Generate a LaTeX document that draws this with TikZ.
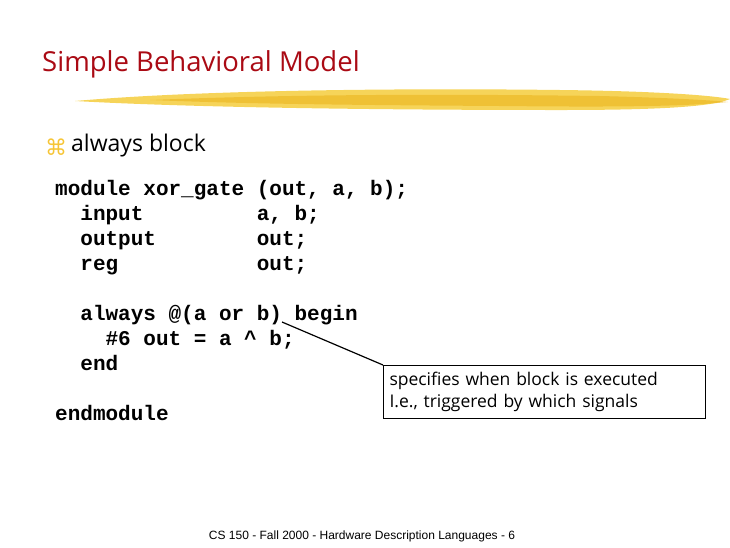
\documentclass[tikz,border=0pt]{standalone}
\usepackage{fontspec}
\setmainfont{Open Sans}
\setmonofont{Liberation Mono}
\newfontfamily\djv{DejaVu Sans}
\newfontfamily\foot{Liberation Sans}
\definecolor{titlered}{RGB}{170,10,20}
\definecolor{brushA}{RGB}{245,205,60}
\definecolor{brushB}{RGB}{235,180,30}
\begin{document}
\begin{tikzpicture}[x=1pt,y=-1pt,
  code/.style={anchor=base west,inner sep=0pt,font=\ttfamily\bfseries\fontsize{21}{21}\selectfont},
  note/.style={draw,line width=1pt,inner xsep=6pt,inner ysep=4pt,align=left,font=\fontsize{17.5}{22}\selectfont}]
\useasboundingbox (0,0) rectangle (730,547);
\node[anchor=west,inner sep=0pt,text=titlered,font=\fontsize{27.5}{27.5}\selectfont] (title) at (42,64) {Simple Behavioral Model};
% brush stroke
\fill[brushA,opacity=0.85] (75,101) .. controls (200,90) and (400,88) .. (560,90) .. controls (650,91) and (710,95) .. (730,99) .. controls (710,108) and (640,110) .. (560,110) .. controls (400,110) and (200,108) .. (75,101) -- cycle;
\fill[brushB,opacity=0.6] (150,100) .. controls (300,94) and (450,94) .. (600,96) .. controls (680,98) and (720,101) .. (728,102) .. controls (680,107) and (600,107) .. (500,106) .. controls (350,105) and (250,104) .. (150,100) -- cycle;
\node[anchor=west,inner sep=0pt,text=brushA!90!orange,font=\djv\fontsize{22}{22}\selectfont] (bul) at (45,147) {⌘};
\node[anchor=west,inner sep=0pt,font=\fontsize{23}{23}\selectfont] (alw) at (71,146) {always block};
\node[code] (l1) at (55,195) {module~xor\_gate~(out,~a,~b);};
\node[code] (l2) at (55,220) {~~input~~~~~~~~~a,~b;};
\node[code] (l3) at (55,245) {~~output~~~~~~~~out;};
\node[code] (l4) at (55,270) {~~reg~~~~~~~~~~~out;};
\node[code] (l5) at (55,320) {~~always~@(a~or~b)~begin};
\node[code] (l6) at (55,345) {~~~~\#6~out~=~a~\^{}~b;};
\node[code] (l7) at (55,370) {~~end};
\node[code] (l8) at (55,420) {endmodule};
\node[note,anchor=north west,text width=310pt,minimum height=53pt] (box) at (383,365) {specifies when block is executed\\I.e., triggered by which signals};
\coordinate (tip) at (282,322);
\draw[line width=1.2pt] (tip) -- (box.north west);
\node[font=\foot\fontsize{12}{12}\selectfont] (footer) at (362,536) {CS 150 - Fall 2000 - Hardware Description Languages - 6};
\end{tikzpicture}
\end{document}
